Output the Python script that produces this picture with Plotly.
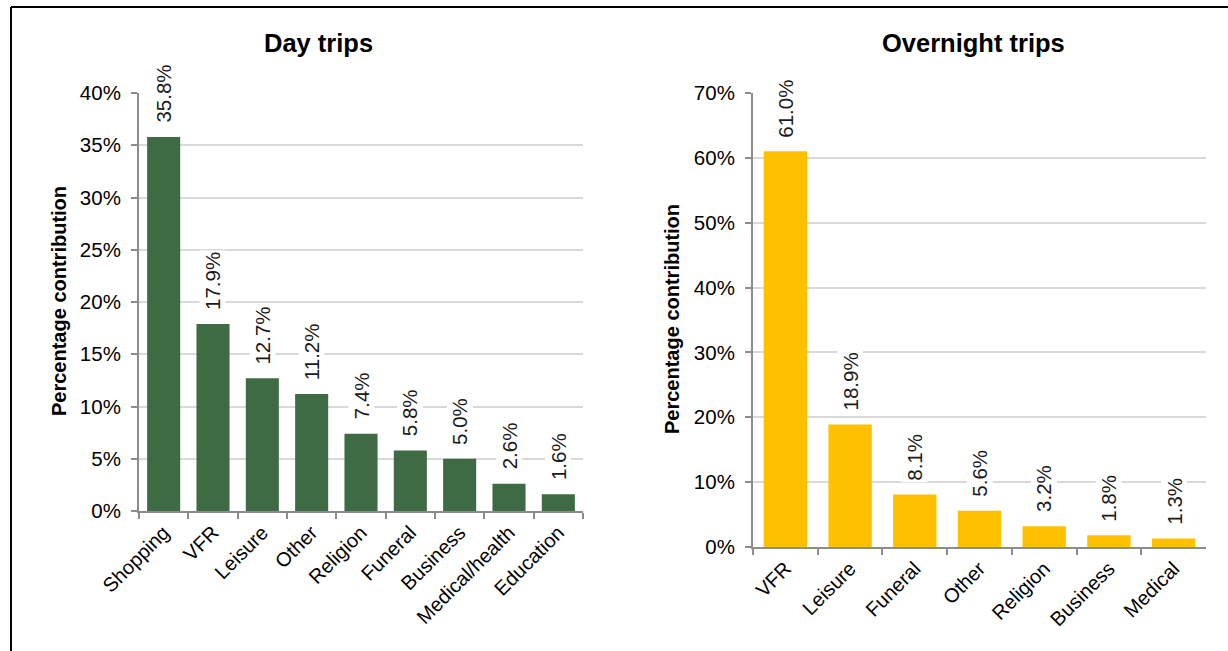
import plotly.graph_objects as go

W, H = 1228, 651

day_categories = ["Shopping", "VFR", "Leisure", "Other", "Religion", "Funeral",
                  "Business", "Medical/health", "Education"]
day_values = [35.8, 17.9, 12.7, 11.2, 7.4, 5.8, 5.0, 2.6, 1.6]

night_categories = ["VFR", "Leisure", "Funeral", "Other", "Religion", "Business", "Medical"]
night_values = [61.0, 18.9, 8.1, 5.6, 3.2, 1.8, 1.3]

day_title = "Day trips"
night_title = "Overnight trips"
y_title = "Percentage contribution"

GREEN = "#3e6b43"
GOLD = "#ffc000"
AXIS = "#8c8c8c"
GRID = "#d9d9d9"
FONT = "Liberation Sans, Arial, sans-serif"

def px_x(p):
    return p / W

def px_y(p):
    return (H - p) / H

fig = go.Figure()
fig.add_trace(go.Bar(x=day_categories, y=[v / 100 for v in day_values],
                     marker=dict(color=GREEN, line=dict(width=0)),
                     xaxis="x", yaxis="y", showlegend=False, hoverinfo="skip"))
fig.add_trace(go.Bar(x=night_categories, y=[v / 100 for v in night_values],
                     marker=dict(color=GOLD, line=dict(width=0)),
                     xaxis="x2", yaxis="y2", showlegend=False, hoverinfo="skip"))

LABEL_FONT = dict(family=FONT, size=20.5, color="#1a1a1a")
annotations = []
for c, v in zip(day_categories, day_values):
    annotations.append(dict(x=c, y=v / 100, xref="x", yref="y", text=f"{v:.1f}%",
                            textangle=-90, showarrow=False, yanchor="bottom",
                            xanchor="center", yshift=12, bgcolor="white",
                            font=LABEL_FONT))
for c, v in zip(night_categories, night_values):
    annotations.append(dict(x=c, y=v / 100, xref="x2", yref="y2", text=f"{v:.1f}%",
                            textangle=-90, showarrow=False, yanchor="bottom",
                            xanchor="center", yshift=12, bgcolor="white",
                            font=LABEL_FONT))

annotations += [
    dict(x=px_x(318), y=px_y(43), xref="paper", yref="paper", text=f"<b>{day_title}</b>",
         showarrow=False, xanchor="center", yanchor="middle",
         font=dict(family=FONT, size=25.5, color="black")),
    dict(x=px_x(973), y=px_y(43), xref="paper", yref="paper", text=f"<b>{night_title}</b>",
         showarrow=False, xanchor="center", yanchor="middle",
         font=dict(family=FONT, size=25.5, color="black")),
    dict(x=px_x(59), y=px_y(301), xref="paper", yref="paper", text=f"<b>{y_title}</b>",
         showarrow=False, textangle=-90, xanchor="center", yanchor="middle",
         font=dict(family=FONT, size=20, color="black")),
    dict(x=px_x(672), y=px_y(319), xref="paper", yref="paper", text=f"<b>{y_title}</b>",
         showarrow=False, textangle=-90, xanchor="center", yanchor="middle",
         font=dict(family=FONT, size=20, color="black")),
]

xcommon = dict(type="category", showline=True, linecolor=AXIS, linewidth=2,
               ticks="outside", tickson="boundaries", ticklen=6, tickcolor=AXIS,
               tickwidth=2, tickangle=-45, showgrid=False, zeroline=False,
               automargin=False,
               tickfont=dict(family=FONT, size=20, color="black"))
ycommon = dict(showline=True, linecolor=AXIS, linewidth=2, ticks="outside",
               ticklen=6, tickcolor=AXIS, tickwidth=2, showgrid=True,
               gridcolor=GRID, gridwidth=2, zeroline=False, tickformat=".0%",
               ticklabelstandoff=6, automargin=False,
               tickfont=dict(family=FONT, size=20.5, color="black"))

fig.update_layout(
    template="none",
    width=W, height=H, autosize=False,
    margin=dict(l=0, r=0, t=0, b=0, pad=0, autoexpand=False),
    paper_bgcolor="white", plot_bgcolor="white",
    bargap=0.33,
    xaxis=dict(domain=[px_x(139), px_x(583)], anchor="y", **xcommon),
    yaxis=dict(domain=[px_y(511), px_y(93)], anchor="x", range=[0, 0.40], dtick=0.05, **ycommon),
    xaxis2=dict(domain=[px_x(753), px_x(1206)], anchor="y2", **xcommon),
    yaxis2=dict(domain=[px_y(547), px_y(93)], anchor="x2", range=[0, 0.70], dtick=0.10, **ycommon),
    annotations=annotations,
    shapes=[
        dict(type="line", xref="paper", yref="paper", x0=px_x(11), x1=px_x(11),
             y0=0, y1=px_y(7), line=dict(color="black", width=2)),
        dict(type="line", xref="paper", yref="paper", x0=px_x(11), x1=1,
             y0=px_y(7), y1=px_y(7), line=dict(color="black", width=2)),
    ],
)

fig.write_html("out.html")
